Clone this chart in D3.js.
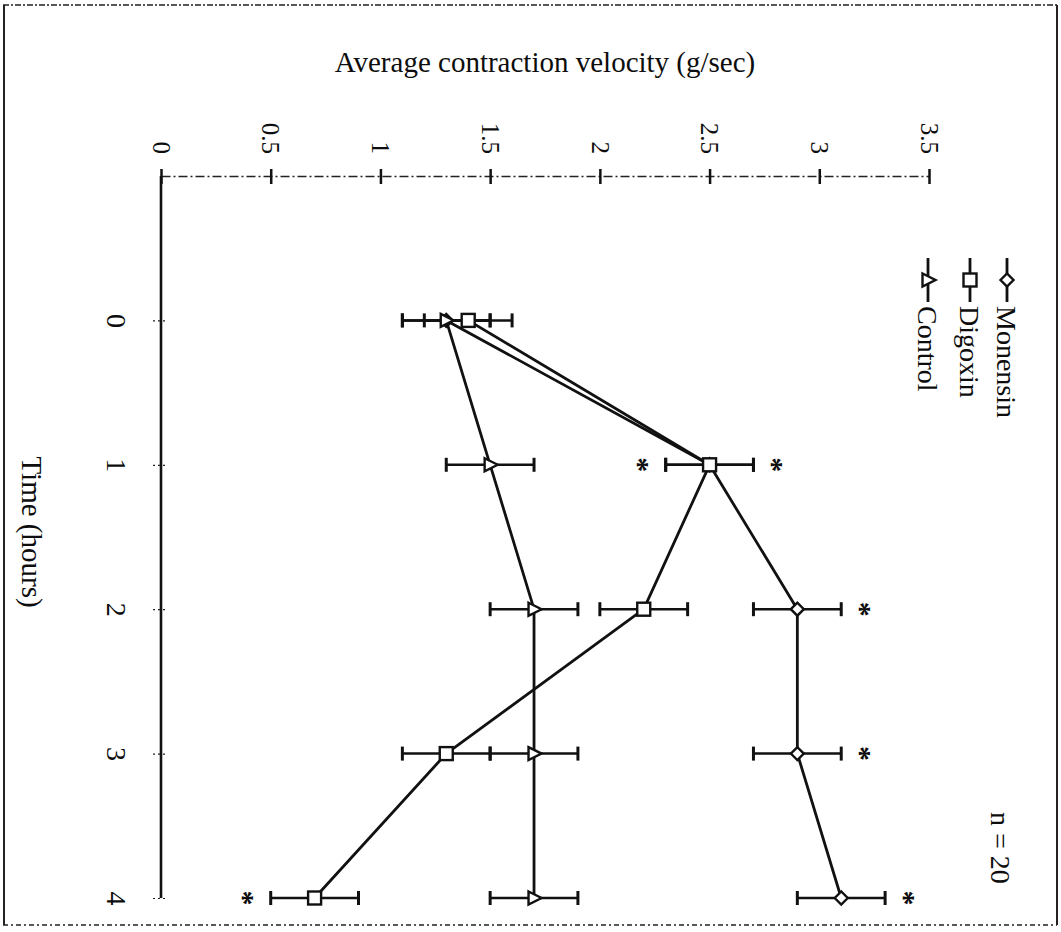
<!DOCTYPE html>
<html>
<head>
<meta charset="utf-8">
<script src="https://cdn.jsdelivr.net/npm/d3@7"></script>
<style>
  html, body { margin: 0; padding: 0; background: #fff; }
  svg { display: block; }
  text { font-family: "Liberation Serif", "Times New Roman", serif; fill: #0d0d0d; }
</style>
</head>
<body>
<svg id="chart" width="1061" height="932"></svg>
<script>
// Time points (hours) and mean contraction velocity (g/sec), n = 20
const hours = [0, 1, 2, 3, 4];
const monensin = [1.3, 2.5, 2.9, 2.9, 3.1];
const monensinErr = [0.2, 0.2, 0.2, 0.2, 0.2];
const digoxin = [1.4, 2.5, 2.2, 1.3, 0.7];
const digoxinErr = [0.2, 0.2, 0.2, 0.2, 0.2];
const control = [1.3, 1.5, 1.7, 1.7, 1.7];
const controlErr = [0.2, 0.2, 0.2, 0.2, 0.2];

// Significance markers: hours at which a series differs from control
const sigMonensin = [1, 2, 3, 4];   // asterisk beyond the upper error bar
const sigDigoxin = [1, 4];          // asterisk beyond the lower error bar

const velocityTicks = [0, 0.5, 1, 1.5, 2, 2.5, 3, 3.5];
const velocityTickLabels = ["0", "0.5", "1", "1.5", "2", "2.5", "3", "3.5"];
const hourTicks = [0, 1, 2, 3, 4];
const hourTickLabels = ["0", "1", "2", "3", "4"];

const seriesNames = ["Monensin", "Digoxin", "Control"];

const svg = d3.select("#chart");

// The plot is laid out turned a quarter turn: velocity runs left→right, time runs top→bottom.
const x = d3.scaleLinear().domain([0, 3.5]).range([161, 929]);
const y = d3.scaleLinear().domain([-1, 4]).range([176, 898]);

// Frame around the figure
const frame = svg.append("g").attr("stroke", "#222").attr("fill", "none");
frame.append("line").attr("x1", 3).attr("x2", 1057).attr("y1", 5).attr("y2", 5)
  .attr("stroke-width", 1.5).attr("stroke-dasharray", "6,2,2,2");
frame.append("line").attr("x1", 3).attr("x2", 1057).attr("y1", 925).attr("y2", 925)
  .attr("stroke-width", 1.5).attr("stroke-dasharray", "5,3,2,3");
frame.append("line").attr("x1", 4).attr("x2", 4).attr("y1", 5).attr("y2", 925).attr("stroke-width", 2);
frame.append("line").attr("x1", 1057).attr("x2", 1057).attr("y1", 5).attr("y2", 925).attr("stroke-width", 2);

// Title for the velocity axis
svg.append("text")
  .attr("x", 545).attr("y", 72)
  .attr("text-anchor", "middle")
  .attr("font-size", 29)
  .text("Average contraction velocity (g/sec)");

// Velocity axis along the top
const vAxis = svg.append("g")
  .attr("transform", `translate(0,${y(-1)})`)
  .call(d3.axisTop(x).tickValues(velocityTicks).tickSizeOuter(0)
    .tickFormat((d, i) => velocityTickLabels[i]));
vAxis.select(".domain").attr("stroke", "#222").attr("stroke-width", 1.5)
  .attr("stroke-dasharray", "9,3,2,3");
vAxis.selectAll(".tick line").attr("y1", -7).attr("y2", 8)
  .attr("stroke", "#111").attr("stroke-width", 2.5);
vAxis.selectAll(".tick text")
  .attr("font-family", "Liberation Serif, serif")
  .attr("font-size", 25)
  .attr("fill", "#0d0d0d")
  .attr("x", 0).attr("y", 0).attr("dy", "0.35em")
  .attr("text-anchor", "end")
  .attr("transform", "translate(0,-22) rotate(90)");

// Time axis down the left side
const tAxis = svg.append("g")
  .attr("transform", `translate(${x(0)},0)`)
  .call(d3.axisLeft(y).tickValues(hourTicks).tickSizeOuter(0)
    .tickFormat((d, i) => hourTickLabels[i]));
tAxis.select(".domain").attr("stroke", "#111").attr("stroke-width", 2.6)
  .attr("d", `M0,${y(-1)}V${y(4)}`);
tAxis.selectAll(".tick line").attr("x1", -8).attr("x2", 7)
  .attr("stroke", "#222").attr("stroke-width", 1.2).attr("stroke-dasharray", "2,3");
tAxis.selectAll(".tick text")
  .attr("font-family", "Liberation Serif, serif")
  .attr("font-size", 28)
  .attr("fill", "#0d0d0d")
  .attr("x", 0).attr("y", 0).attr("dy", "0.35em")
  .attr("text-anchor", "middle")
  .attr("transform", "translate(-44,0) rotate(90)");

svg.append("text")
  .attr("transform", `translate(32,${(y(1) + y(2)) / 2 - 5}) rotate(90)`)
  .attr("text-anchor", "middle")
  .attr("dy", "0.35em")
  .attr("font-size", 29)
  .text("Time (hours)");

// Marker shapes (triangle points along +velocity)
const markerSize = 13;
function drawMarker(g, kind) {
  const s = markerSize / 2;
  if (kind === "Monensin") {
    g.append("path").attr("d", `M${-s},0L0,${-s}L${s},0L0,${s}Z`);
  } else if (kind === "Digoxin") {
    g.append("rect").attr("x", -s).attr("y", -s).attr("width", 2 * s).attr("height", 2 * s);
  } else {
    g.append("path").attr("d", `M${-s + 1},${-s}L${s + 1},0L${-s + 1},${s}Z`);
  }
}

const seriesData = [
  { name: "Monensin", values: monensin, err: monensinErr },
  { name: "Digoxin", values: digoxin, err: digoxinErr },
  { name: "Control", values: control, err: controlErr }
];

const line = d3.line().x(d => x(d.v)).y(d => y(d.t));

// Connecting lines
seriesData.forEach(s => {
  const pts = hours.map((t, i) => ({ t, v: s.values[i] }));
  svg.append("path").datum(pts)
    .attr("d", line)
    .attr("fill", "none")
    .attr("stroke", "#111")
    .attr("stroke-width", 2.8)
    .attr("stroke-linejoin", "round");
});

// Error bars
seriesData.forEach(s => {
  const g = svg.append("g").attr("stroke", "#111").attr("stroke-width", 2.5);
  hours.forEach((t, i) => {
    const lo = x(s.values[i] - s.err[i]), hi = x(s.values[i] + s.err[i]), yy = y(t);
    g.append("line").attr("x1", lo).attr("x2", hi).attr("y1", yy).attr("y2", yy);
    g.append("line").attr("x1", lo).attr("x2", lo).attr("y1", yy - 7).attr("y2", yy + 7).attr("stroke-width", 3);
    g.append("line").attr("x1", hi).attr("x2", hi).attr("y1", yy - 7).attr("y2", yy + 7).attr("stroke-width", 3);
  });
});

// Markers
seriesData.forEach(s => {
  hours.forEach((t, i) => {
    const g = svg.append("g")
      .attr("transform", `translate(${x(s.values[i])},${y(t)})`)
      .attr("fill", "#fff").attr("stroke", "#111").attr("stroke-width", 2.4);
    drawMarker(g, s.name);
  });
});

// Asterisks marking significant differences from control
function asterisk(px, py) {
  svg.append("text")
    .attr("transform", `translate(${px},${py}) rotate(90)`)
    .attr("text-anchor", "middle")
    .attr("dy", "0.62em")
    .attr("font-size", 30)
    .attr("font-weight", "bold")
    .text("*");
}
sigMonensin.forEach(t => {
  const i = hours.indexOf(t);
  asterisk(x(monensin[i] + monensinErr[i]) + 28, y(t));
});
sigDigoxin.forEach(t => {
  const i = hours.indexOf(t);
  asterisk(x(digoxin[i] - digoxinErr[i]) - 18, y(t));
});

// Legend
const legendX = [1007, 970, 928];
seriesNames.forEach((name, k) => {
  const lx = legendX[k];
  svg.append("line").attr("x1", lx).attr("x2", lx).attr("y1", 258).attr("y2", 302)
    .attr("stroke", "#111").attr("stroke-width", 2.8);
  const g = svg.append("g").attr("transform", `translate(${lx},280)`)
    .attr("fill", "#fff").attr("stroke", "#111").attr("stroke-width", 2.4);
  drawMarker(g, name);
  svg.append("text")
    .attr("transform", `translate(${lx},306) rotate(90)`)
    .attr("dy", "0.35em")
    .attr("font-size", 28)
    .text(name);
});

svg.append("text")
  .attr("transform", "translate(1001,812) rotate(90)")
  .attr("dy", "0.35em")
  .attr("font-size", 28)
  .text("n = 20");
</script>
</body>
</html>
